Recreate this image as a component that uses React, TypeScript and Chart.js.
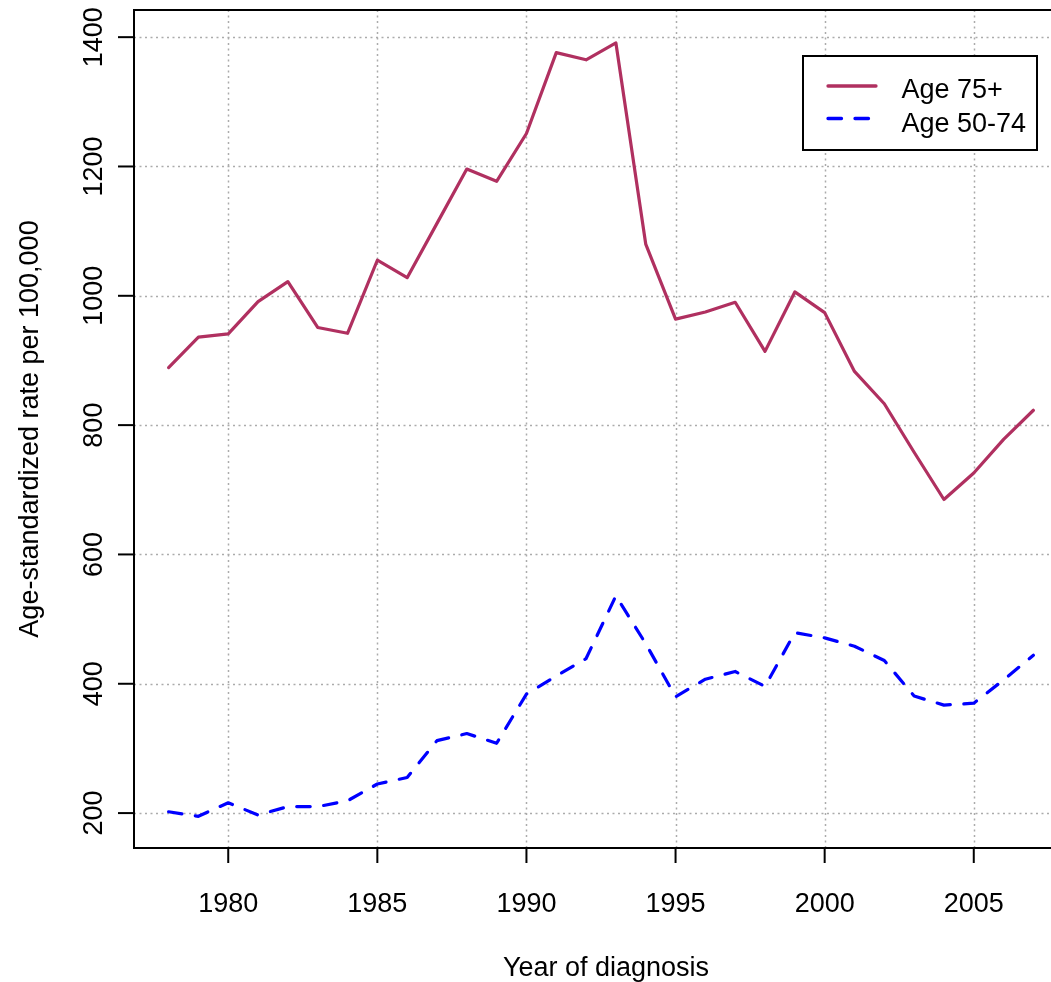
import React, { useEffect, useRef } from "react";
import { Chart, registerables } from "chart.js";

Chart.register(...registerables);

const years: number[] = [
  1978, 1979, 1980, 1981, 1982, 1983, 1984, 1985, 1986, 1987,
  1988, 1989, 1990, 1991, 1992, 1993, 1994, 1995, 1996, 1997,
  1998, 1999, 2000, 2001, 2002, 2003, 2004, 2005, 2006, 2007,
];
const age75plus: number[] = [
  889, 936, 941, 991, 1022, 951, 942, 1055, 1028, 1112,
  1196, 1177, 1251, 1376, 1365, 1391, 1080, 964, 975, 990,
  914, 1006, 974, 883, 833, 758, 685, 726, 778, 823,
];
const age50to74: number[] = [
  202, 195, 216, 197, 210, 210, 219, 245, 255, 312,
  323, 308, 384, 412, 439, 536, 462, 380, 407, 419,
  396, 479, 471, 458, 436, 381, 367, 370, 406, 444,
];
const xTicks: number[] = [1980, 1985, 1990, 1995, 2000, 2005];
const yTicks: number[] = [200, 400, 600, 800, 1000, 1200, 1400];
const seriesLabels: string[] = ["Age 75+", "Age 50-74"];
const xTitle = "Year of diagnosis";
const yTitle = "Age-standardized rate per 100,000";

const FONT = '"Liberation Sans", Arial, Helvetica, sans-serif';
const MAROON = "#B03060";
const BLUE = "#0000FF";

const CW = 1100;
const CH = 982;

export default function App() {
  const ref = useRef<HTMLCanvasElement | null>(null);

  useEffect(() => {
    const canvas = ref.current;
    if (!canvas) return;

    const rPlot = {
      id: "rplot",
      beforeDatasetsDraw(chart: any) {
        const ctx = chart.ctx;
        const { left, right, top, bottom } = chart.chartArea;
        const xs = chart.scales.x;
        const ys = chart.scales.y;
        ctx.save();
        ctx.strokeStyle = "#ababab";
        ctx.lineWidth = 1.5;
        ctx.setLineDash([2, 3.5]);
        for (const t of xTicks) {
          const px = Math.round(xs.getPixelForValue(t)) + 0.5;
          ctx.beginPath();
          ctx.moveTo(px, top);
          ctx.lineTo(px, bottom);
          ctx.stroke();
        }
        for (const t of yTicks) {
          const py = Math.round(ys.getPixelForValue(t)) + 0.5;
          ctx.beginPath();
          ctx.moveTo(left, py);
          ctx.lineTo(right, py);
          ctx.stroke();
        }
        ctx.restore();
      },
      afterDatasetsDraw(chart: any) {
        const ctx = chart.ctx;
        const { left, right, top, bottom } = chart.chartArea;
        const xs = chart.scales.x;
        const ys = chart.scales.y;
        ctx.save();
        // box
        ctx.strokeStyle = "#000";
        ctx.lineWidth = 2;
        ctx.setLineDash([]);
        ctx.strokeRect(left, top, right - left, bottom - top);
        // ticks
        ctx.fillStyle = "#000";
        ctx.font = `27px ${FONT}`;
        for (const t of xTicks) {
          const px = xs.getPixelForValue(t);
          ctx.beginPath();
          ctx.moveTo(px, bottom);
          ctx.lineTo(px, bottom + 15);
          ctx.stroke();
          ctx.textAlign = "center";
          ctx.textBaseline = "alphabetic";
          ctx.fillText(String(t), px, 911.5);
        }
        for (const t of yTicks) {
          const py = ys.getPixelForValue(t);
          ctx.beginPath();
          ctx.moveTo(left, py);
          ctx.lineTo(left - 16, py);
          ctx.stroke();
          ctx.save();
          ctx.translate(102, py);
          ctx.rotate(-Math.PI / 2);
          ctx.textAlign = "center";
          ctx.textBaseline = "alphabetic";
          ctx.fillText(String(t), 0, 0);
          ctx.restore();
        }
        // titles
        ctx.textAlign = "center";
        ctx.textBaseline = "alphabetic";
        ctx.fillText(xTitle, 606, 976);
        ctx.save();
        ctx.translate(37.5, (top + bottom) / 2);
        ctx.rotate(-Math.PI / 2);
        ctx.fillText(yTitle, 0, 0);
        ctx.restore();

        // legend
        ctx.fillStyle = "#fff";
        ctx.fillRect(803, 56, 234, 94);
        ctx.strokeStyle = "#000";
        ctx.lineWidth = 2;
        ctx.strokeRect(803, 56, 234, 94);
        ctx.lineCap = "round";
        ctx.lineWidth = 3.3;
        ctx.strokeStyle = MAROON;
        ctx.beginPath();
        ctx.moveTo(828, 86);
        ctx.lineTo(876, 86);
        ctx.stroke();
        ctx.strokeStyle = BLUE;
        ctx.setLineDash([13.5, 13.5]);
        ctx.beginPath();
        ctx.moveTo(828, 118.5);
        ctx.lineTo(876, 118.5);
        ctx.stroke();
        ctx.setLineDash([]);
        ctx.fillStyle = "#000";
        ctx.textAlign = "left";
        ctx.fillText(seriesLabels[0], 901.5, 97.5);
        ctx.fillText(seriesLabels[1], 901.5, 131.5);
        ctx.restore();
      },
    };

    const chart = new Chart(canvas, {
      type: "line",
      data: {
        datasets: [
          {
            label: seriesLabels[0],
            data: years.map((y, i) => ({ x: y, y: age75plus[i] })),
            borderColor: MAROON,
            borderWidth: 3.2,
            pointRadius: 0,
            borderCapStyle: "round",
            borderJoinStyle: "round",
            tension: 0,
            fill: false,
          },
          {
            label: seriesLabels[1],
            data: years.map((y, i) => ({ x: y, y: age50to74[i] })),
            borderColor: BLUE,
            borderWidth: 3.2,
            borderDash: [13.5, 13.5],
            pointRadius: 0,
            borderCapStyle: "round",
            borderJoinStyle: "round",
            tension: 0,
            fill: false,
          },
        ],
      },
      options: {
        animation: false,
        responsive: false,
        maintainAspectRatio: false,
        devicePixelRatio: 1,
        layout: { padding: { left: 134, right: CW - 1068, top: 10, bottom: CH - 848 } },
        scales: {
          x: { type: "linear", min: 1976.84, max: 2008.16, display: false },
          y: { type: "linear", min: 146, max: 1442, display: false },
        },
        plugins: {
          legend: { display: false },
          tooltip: { enabled: false },
          title: { display: false },
        },
      },
      plugins: [rPlot],
    } as any);

    return () => chart.destroy();
  }, []);

  return (
    <div
      style={{
        position: "fixed",
        left: 0,
        top: 0,
        width: 1051,
        height: 982,
        overflow: "hidden",
        background: "#fff",
      }}
    >
      <canvas ref={ref} width={CW} height={CH} style={{ width: CW, height: CH, display: "block" }} />
    </div>
  );
}
